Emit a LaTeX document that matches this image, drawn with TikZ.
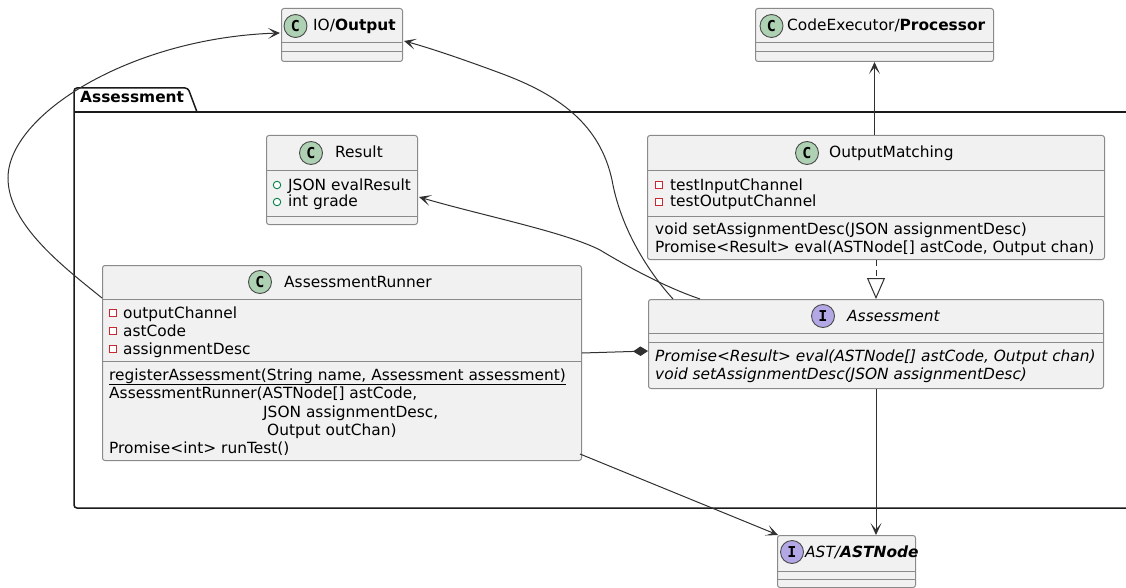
\documentclass[tikz,border=0pt]{standalone}
\usepackage{fontspec}
\setmainfont{DejaVu Sans}
\newfontfamily\spotfont{DejaVu Sans Mono}
\usetikzlibrary{arrows.meta,calc}

\definecolor{boxfill}{HTML}{F1F1F1}
\definecolor{boxline}{HTML}{8A8A8A}
\definecolor{spotline}{HTML}{4A4A4A}
\definecolor{classgreen}{HTML}{ADD1B2}
\definecolor{ifacepurple}{HTML}{B4A7E5}
\definecolor{privred}{HTML}{C82930}
\definecolor{pubgreen}{HTML}{038048}
\definecolor{linkc}{HTML}{303030}
\definecolor{pkgc}{HTML}{1A1A1A}

\newcommand\umlfont{\fontsize{15.4}{18.3}\selectfont}
% horizontal compartment line across a box, #2 below its top edge
\newcommand\compartment[2]{\draw[sepline] ($(#1.north west)+(0,#2)$) -- ($(#1.north east)+(0,#2)$);}

\tikzset{
  umlbox/.style={draw=boxline, fill=boxfill, rounded corners=2.5pt, line width=1pt,
    inner sep=0pt, anchor=north west},
  sepline/.style={draw=boxline, line width=1pt},
  spot/.style={circle, draw=spotline, line width=0.9pt, minimum size=23pt, inner sep=0pt,
    font=\spotfont\bfseries\fontsize{15}{15}\selectfont},
  cspot/.style={spot, fill=classgreen},
  ispot/.style={spot, fill=ifacepurple},
  txt/.style={inner sep=0pt, anchor=base west, font=\umlfont},
  privm/.style={rectangle, draw=privred, fill=white, line width=0.9pt, minimum size=7pt, inner sep=0pt},
  pubm/.style={circle, draw=pubgreen, fill=white, line width=0.9pt, minimum size=7.5pt, inner sep=0pt},
  link/.style={draw=linkc, line width=1pt},
  arr/.style={link, -{Stealth[length=12pt, width=11pt, inset=6.5pt]}},
  comp/.style={link, -{Diamond[length=15pt, width=9.5pt, fill=linkc]}},
  realize/.style={link, dash pattern=on 6pt off 4pt, -{Triangle[length=21pt, width=18pt, fill=white]}},
  pkgline/.style={draw=pkgc, line width=1.5pt},
}

\begin{document}
\begin{tikzpicture}[x=1pt, y=-1pt]
\useasboundingbox (0,0) rectangle (1126,588);
\fill[white] (0,0) rectangle (1126,588);
\clip (0,0) rectangle (1126,588);

% package frame with its tab
\draw[pkgline, rounded corners=3pt] (1140,508) -- (74,508) -- (74,88) -- (188,88) -- (197,112);
\draw[pkgline] (74,112) -- (1140,112);
\node[txt, font=\umlfont\bfseries] (pkgN) at (80,103) {Assessment};

% class boxes
\node[umlbox, minimum width=121pt, minimum height=53pt]  (out)  at (281,8)   {};
\node[umlbox, minimum width=238pt, minimum height=53pt]  (proc) at (755,8)   {};
\node[umlbox, minimum width=151pt, minimum height=89pt]  (res)  at (266,135) {};
\node[umlbox, minimum width=457pt, minimum height=124pt] (om)   at (647,135) {};
\node[umlbox, minimum width=455pt, minimum height=89pt]  (asm)  at (648,299) {};
\node[umlbox, minimum width=479pt, minimum height=195pt] (run)  at (102,265) {};
\node[umlbox, minimum width=138pt, minimum height=52pt]  (ast)  at (777,535) {};

\compartment{out}{35}  \compartment{out}{44}
\compartment{proc}{35} \compartment{proc}{44}
\compartment{res}{36}  \compartment{res}{81}
\compartment{om}{36}   \compartment{om}{81}
\compartment{asm}{34}  \compartment{asm}{43}
\compartment{run}{34}  \compartment{run}{96}
\compartment{ast}{36}  \compartment{ast}{44}

% stereotype spots
\node[cspot] (outC)  at (295.5,26) {C};
\node[cspot] (procC) at (771.5,26) {C};
\node[cspot] (resC)  at (311,153)  {C};
\node[cspot] (omC)   at (807,153)  {C};
\node[ispot] (asmI)  at (823,316)  {I};
\node[cspot] (runC)  at (260,282)  {C};
\node[ispot] (astI)  at (792,552)  {I};

% class names
\node[txt] (outN)  at (313,31)  {IO/\textbf{Output}};
\node[txt] (procN) at (787,31)  {CodeExecutor/\textbf{Processor}};
\node[txt] (resN)  at (335,158) {Result};
\node[txt] (omN)   at (829,158) {OutputMatching};
\node[txt] (asmN)  at (847,321) {\itshape Assessment};
\node[txt] (runN)  at (284,287) {AssessmentRunner};
\node[txt] (astN)  at (805,557) {\itshape AST/\textbf{ASTNode}};

% Result members
\node[pubm] (resV1) at (277,185) {};
\node[pubm] (resV2) at (277,202) {};
\node[txt] (resA1) at (288,190) {JSON evalResult};
\node[txt] (resA2) at (288,207) {int grade};

% OutputMatching members
\node[privm] (omV1) at (659,185) {};
\node[privm] (omV2) at (659,202) {};
\node[txt] (omA1) at (670,190) {testInputChannel};
\node[txt] (omA2) at (670,207) {testOutputChannel};
\node[txt] (omM1) at (655,234) {void setAssignmentDesc(JSON assignmentDesc)};
\node[txt] (omM2) at (655,252) {Promise<Result> eval(ASTNode[] astCode, Output chan)};

% Assessment interface members
\node[txt] (asmM1) at (655,361) {\itshape Promise<Result> eval(ASTNode[] astCode, Output chan)};
\node[txt] (asmM2) at (655,379) {\itshape void setAssignmentDesc(JSON assignmentDesc)};

% AssessmentRunner members
\node[privm] (runV1) at (113,313) {};
\node[privm] (runV2) at (113,331) {};
\node[privm] (runV3) at (113,349) {};
\node[txt] (runA1) at (123,318) {outputChannel};
\node[txt] (runA2) at (123,336) {astCode};
\node[txt] (runA3) at (123,354) {assignmentDesc};
\node[txt] (runM1) at (109,380) {registerAssessment(String name, Assessment assessment)};
\draw[draw=black, line width=1pt] ($(runM1.base west)+(0,4)$) -- ($(runM1.base east)+(0,4)$);
\node[txt] (runM2) at (109,398) {AssessmentRunner(ASTNode[] astCode,};
\node[txt] (runM3) at (263,417) {JSON assignmentDesc,};
\node[txt] (runM4) at (267,435) {Output outChan)};
\node[txt] (runM5) at (109,453) {Promise<int> runTest()};

% relations
\draw[arr] (proc.south |- om.north) -- (proc.south);
\draw[realize] (om.south) -- (om.south |- asm.north);
\draw[arr] (asm.south) -- (asm.south |- ast.north);
\draw[arr] ($(run.south east)+(-2,-7)$) -- ($(ast.north west)+(1,0)$);
\draw[comp] ($(run.north east)+(0,88)$) -- ($(asm.north west)+(0,52)$);
\draw[arr] ($(asm.north west)+(52,0)$) .. controls (665,287) and (630,268) .. (600,250)
  .. controls (565,232) and (480,215) .. ($(res.north east)+(1,62)$);
\draw[arr] ($(asm.north west)+(25,0)$) .. controls (645,268) and (620,225) .. (612,180)
  .. controls (600,125) and (560,95) .. (500,73)
  .. controls (465,60) and (430,48) .. ($(out.north east)+(1,33)$);
\draw[arr] ($(run.north west)+(0,33)$) .. controls (65,268) and (8,225) .. (8,178)
  .. controls (8,115) and (130,38) .. ($(out.north west)+(-1,25)$);
\end{tikzpicture}
\end{document}
